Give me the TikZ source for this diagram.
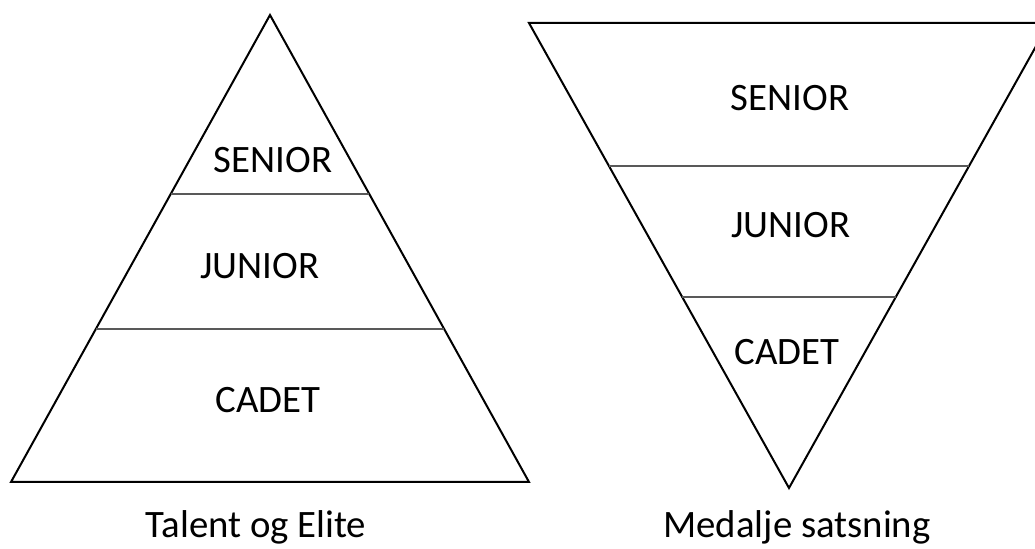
\documentclass[tikz,border=0pt]{standalone}
\usepackage{fontspec}
\setmainfont{Carlito}
\begin{document}
\begin{tikzpicture}[x=0.5pt,y=-0.5pt,
  tri/.style={draw=black,line width=1pt,line join=miter},
  divider/.style={draw=black!65,line width=0.8pt},
  lbl/.style={font=\fontsize{19.4}{23}\selectfont,inner sep=0pt,anchor=center}]
\useasboundingbox (0,0) rectangle (1035,549);
\clip (0,0) rectangle (1035,549);
% left pyramid
\coordinate (la) at (270,15);
\coordinate (lb) at (11,482);
\coordinate (lc) at (529,482);
\draw[tri] (la) -- (lb) -- (lc) -- cycle;
\coordinate (l1a) at (171,194);
\coordinate (l1b) at (369,194);
\coordinate (l2a) at (96,329);
\coordinate (l2b) at (444,329);
\draw[divider] (l1a) -- (l1b);
\draw[divider] (l2a) -- (l2b);
\node[lbl] (lsen) at (273,160) {SENIOR};
\node[lbl] (ljun) at (260,266) {JUNIOR};
\node[lbl] (lcad) at (268,400) {CADET};
\node[lbl] (ltitle) at (256,527) {Talent og Elite};
% right inverted pyramid
\coordinate (ra) at (529,23);
\coordinate (rb) at (1049,23);
\coordinate (rc) at (789,488);
\draw[tri] (ra) -- (rb) -- (rc) -- cycle;
\coordinate (r1a) at (609,166);
\coordinate (r1b) at (969,166);
\coordinate (r2a) at (682,297);
\coordinate (r2b) at (896,297);
\draw[divider] (r1a) -- (r1b);
\draw[divider] (r2a) -- (r2b);
\node[lbl] (rsen) at (790,98) {SENIOR};
\node[lbl] (rjun) at (791,225) {JUNIOR};
\node[lbl] (rcad) at (787,352) {CADET};
\node[lbl] (rtitle) at (797,527) {Medalje satsning};
\end{tikzpicture}
\end{document}
